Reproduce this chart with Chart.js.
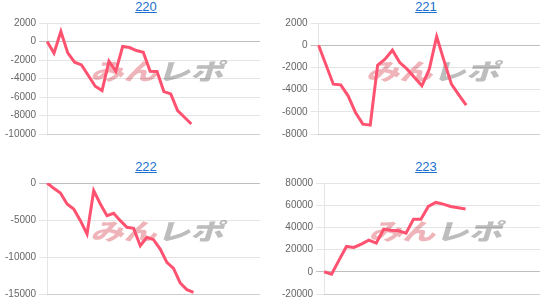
<!DOCTYPE html>
<html>
<head>
<meta charset="utf-8">
<script src="https://cdn.jsdelivr.net/npm/chart.js@4"></script>
<style>
body { margin: 0; background: #fff; width: 555px; height: 307px; overflow: hidden; font-family: "Liberation Sans", Arial, sans-serif; }
.panel { position: absolute; width: 277px; height: 160px; }
.panel a { position: absolute; top: -1px; left: 0; font-size: 13px; line-height: 15px; color: #1a6fd0; text-decoration: underline; text-align: center; }
.box { position: absolute; left: 0; top: 14px; height: 129px; }
</style>
</head>
<body>
<div class="panel" style="left:0;top:0"><a href="#" style="width:292px">220</a><div class="box" style="width:260px"><canvas id="c220"></canvas></div></div>
<div class="panel" style="left:277px;top:0"><a href="#" style="width:298px">221</a><div class="box" style="width:263px"><canvas id="c221"></canvas></div></div>
<div class="panel" style="left:0;top:160px"><a href="#" style="width:292px">222</a><div class="box" style="width:260px"><canvas id="c222"></canvas></div></div>
<div class="panel" style="left:277px;top:160px"><a href="#" style="width:298px">223</a><div class="box" style="width:263px"><canvas id="c223"></canvas></div></div>
<script>
// x categories (not shown on the axis)
const labels220 = ['1','2','3','4','5','6','7','8','9','10','11','12','13','14','15','16','17','18','19','20','21','22','23','24','25','26','27','28','29','30','31','32'];
const labels221 = ['1','2','3','4','5','6','7','8','9','10','11','12','13','14','15','16','17','18','19','20','21','22','23','24','25','26','27','28','29','30','31'];
const labels222 = ['1','2','3','4','5','6','7','8','9','10','11','12','13','14','15','16','17','18','19','20','21','22','23','24','25','26','27','28','29','30','31','32','33'];
const labels223 = ['1','2','3','4','5','6','7','8','9','10','11','12','13','14','15','16','17','18','19','20','21','22','23','24','25','26','27','28','29','30'];

const values220 = [0, -1260, 1080, -1230, -2240, -2530, -3680, -4840, -5310, -2130, -3210, -540, -650, -975, -1155, -3210, -3250, -5415, -5670, -7470, -8190, -8920];
const values221 = [0, -1770, -3510, -3570, -4560, -6060, -7110, -7200, -1800, -1260, -450, -1560, -2160, -2910, -3660, -2160, 780, -1410, -3510, -4470, -5400];
const values222 = [0, -720, -1350, -2840, -3510, -5090, -6890, -1040, -2840, -4410, -4100, -5090, -5990, -6130, -8470, -7340, -7660, -8920, -10720, -11530, -13510, -14410, -14780];
const values223 = [0, -2100, 10500, 22800, 21900, 24900, 28500, 25800, 38400, 37500, 36900, 34800, 47400, 47400, 58900, 62500, 61000, 58900, 57700, 56500];

// y tick ranges: 220, 221, 222, 223
const yMins  = [-10000, -8000, -15000, -20000];
const yMaxs  = [2000, 2000, 0, 80000];
const ySteps = [2000, 2000, 5000, 20000];

const watermark = {
    id: 'watermark',
    beforeDraw(chart) {
        const ctx = chart.ctx;
        const a = chart.chartArea;
        ctx.save();
        ctx.translate((a.left + a.right) / 2 + 6, (a.top + a.bottom) / 2 - 7);
        ctx.transform(1.45, 0, -0.3, 1, 0, 0);
        ctx.font = '900 23px "Noto Sans CJK JP"';
        ctx.textBaseline = 'middle';
        const w1 = ctx.measureText('みん').width;
        const w2 = ctx.measureText('レポ').width;
        const x = -(w1 + w2) / 2;
        ctx.fillStyle = '#efb4b9';
        ctx.fillText('みん', x, 0);
        ctx.fillStyle = '#bdbdbd';
        ctx.fillText('レポ', x + w1, 0);
        ctx.restore();
    }
};

function makeChart(id, labels, values, i) {
    new Chart(document.getElementById(id).getContext('2d'), {
        type: 'line',
        data: {
            labels: labels,
            datasets: [{
                data: values,
                borderColor: 'rgb(255, 82, 112)',
                borderWidth: 3,
                pointRadius: 0,
                tension: 0,
                fill: false
            }]
        },
        options: {
            responsive: true,
            maintainAspectRatio: false,
            animation: false,
            layout: { padding: { left: 2, right: 0, top: 0, bottom: 0 } },
            plugins: { legend: { display: false }, tooltip: { enabled: false } },
            scales: {
                x: {
                    grid: { display: false, drawTicks: false },
                    ticks: { display: false },
                    border: { color: 'rgba(0,0,0,0.1)' }
                },
                y: {
                    min: yMins[i],
                    max: yMaxs[i],
                    ticks: {
                        stepSize: ySteps[i],
                        color: '#666',
                        padding: 3,
                        font: { size: 10, family: '"Liberation Sans", Arial, sans-serif' },
                        callback: v => String(v)
                    },
                    grid: {
                        tickLength: 8,
                        color: ctx => (ctx.tick && ctx.tick.value === 0) ? 'rgba(0,0,0,0.25)' : 'rgba(0,0,0,0.1)'
                    },
                    border: { color: 'rgba(0,0,0,0.1)' }
                }
            }
        },
        plugins: [watermark]
    });
}

makeChart('c220', labels220, values220, 0);
makeChart('c221', labels221, values221, 1);
makeChart('c222', labels222, values222, 2);
makeChart('c223', labels223, values223, 3);
</script>
</body>
</html>
